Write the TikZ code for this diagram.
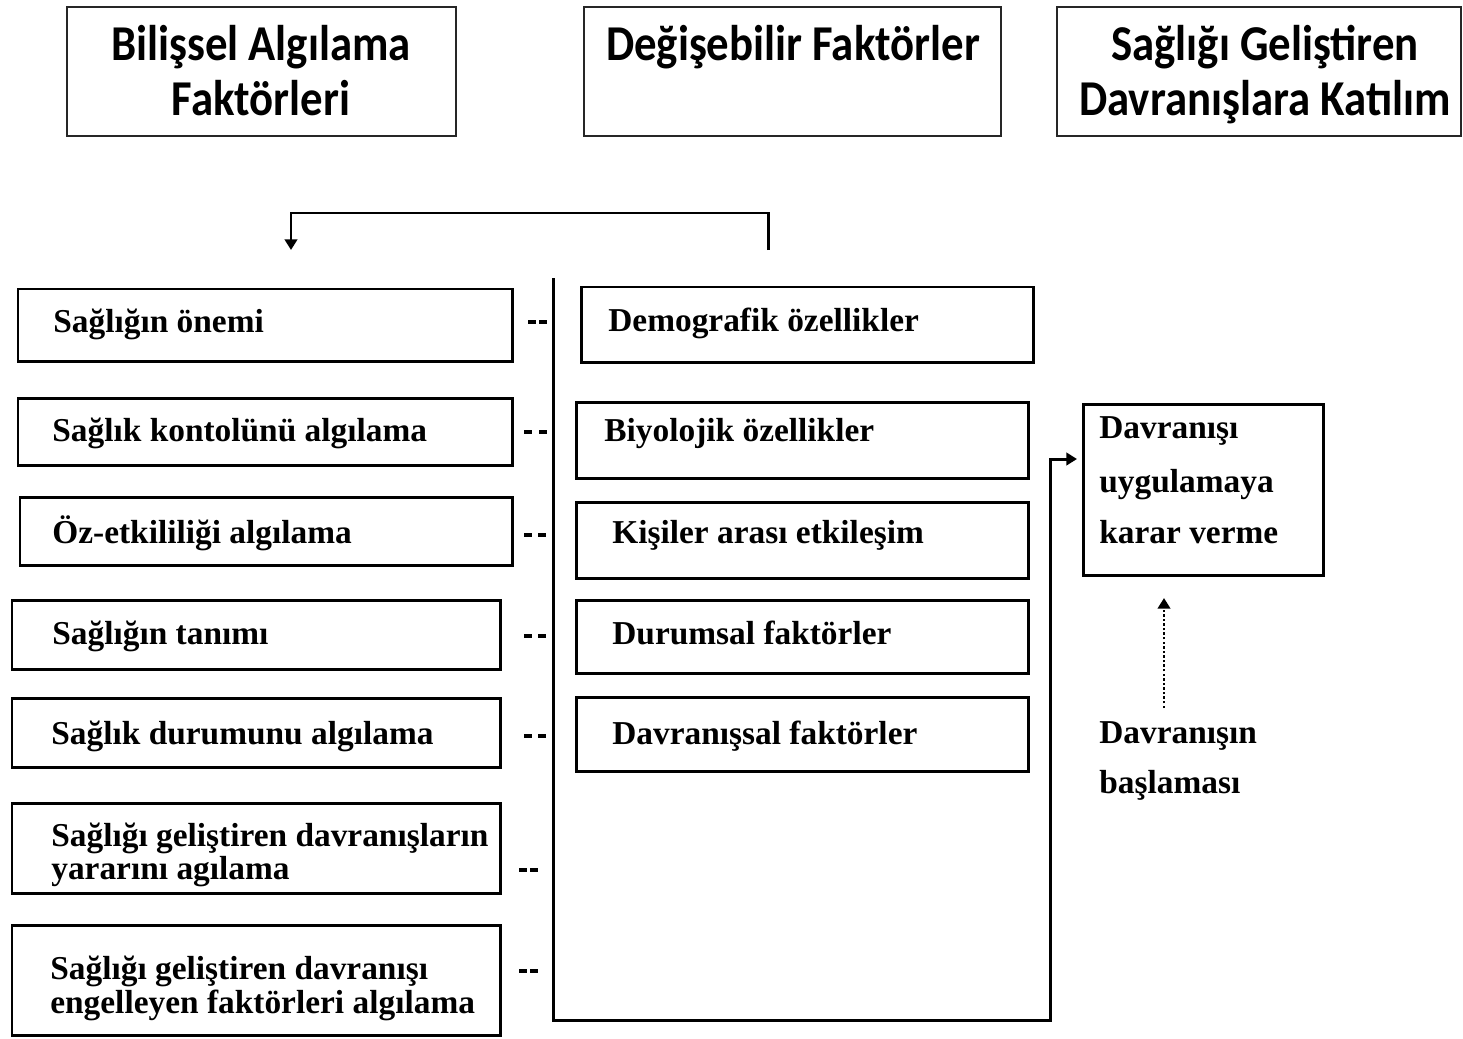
\documentclass[tikz,border=0pt]{standalone}
\usepackage{fontspec}
\setmainfont{Liberation Serif}
\newfontfamily\headfamily{Carlito}
\usetikzlibrary{fit,arrows.meta}
\newcommand\bodytext{\fontsize{19}{23}\selectfont\bfseries}
\newcommand\headtext{\headfamily\bfseries\fontsize{25.5}{31}\selectfont}
% heading lines are set a little taller than the plain font
\newcommand\tall[1]{\scalebox{1}[1.12]{#1}}
\tikzset{
  hbox/.style={draw=black!85, line width=1.3pt, inner sep=0pt},
  pbox/.style={draw, line width=1.7pt, inner sep=0pt},
  htxt/.style={font=\headtext, anchor=base, inner sep=0pt},
  btxt/.style={font=\bodytext, anchor=base west, inner sep=0pt},
  arr/.style={line width=1.7pt, -{Triangle[length=6pt,width=7pt]}},
  dotarr/.style={line width=1.5pt, dash pattern=on 1.4pt off 1.2pt, -{Triangle[length=6pt,width=7pt]}},
  tick/.style={line width=2pt},
}
% a framed box between two corners
\newcommand\panel[5]{\node[pbox, fit={(#2,#3)(#4,#5)}] (#1) {};}
\newcommand\hpanel[5]{\node[hbox, fit={(#2,#3)(#4,#5)}] (#1) {};}
% a double hyphen ahead of the joining line
\newcommand\dashpair[3]{%
  \draw[tick] (#1,#3) -- (#1+8,#3);
  \draw[tick] (#2-8,#3) -- (#2,#3);}
\begin{document}
\begin{tikzpicture}[x=0.02cm, y=-0.02cm]
\useasboundingbox (0,0) rectangle (1463,1038);

% column headings
\hpanel{h1}{67}{7}{456}{136}
\hpanel{h2}{584}{7}{1001}{136}
\hpanel{h3}{1057}{7}{1461}{136}
\node[htxt] (h1a) at (261,60) {\tall{Bilişsel Algılama}};
\node[htxt] (h1b) at (261,115) {\tall{Faktörleri}};
\node[htxt] (h2a) at (793,60) {\tall{Değişebilir Faktörler}};
\node[htxt] (h3a) at (1265,60) {\tall{Sağlığı Geliştiren}};
\node[htxt] (h3b) at (1265,115) {\tall{Davranışlara Katılım}};

% feedback from the modifying factors to the cognitive factors
\coordinate (fbs) at (768,250);
\coordinate (fbe) at (291,250);
\draw[arr] (fbs) -- ++(0,-37) -| (fbe);

% cognitive-perceptual factors
\panel{l1}{18}{289}{512}{361}
\panel{l2}{18}{398}{512}{465}
\panel{l3}{20}{497}{512}{565}
\panel{l4}{12}{600}{500}{669}
\panel{l5}{12}{698}{500}{767}
\panel{l6}{12}{803}{500}{893}
\panel{l7}{12}{925}{500}{1035}
\node[btxt] (l1t) at (53,332) {Sağlığın önemi};
\node[btxt] (l2t) at (52,441) {Sağlık kontolünü algılama};
\node[btxt] (l3t) at (52,543) {Öz-etkililiği algılama};
\node[btxt] (l4t) at (52,644) {Sağlığın tanımı};
\node[btxt] (l5t) at (51,744) {Sağlık durumunu algılama};
\node[btxt] (l6t) at (51,846) {Sağlığı geliştiren davranışların};
\node[btxt] (l6u) at (51,879) {yararını agılama};
\node[btxt] (l7t) at (50,979) {Sağlığı geliştiren davranışı};
\node[btxt] (l7u) at (50,1013) {engelleyen faktörleri algılama};

\dashpair{528}{547}{322}
\dashpair{524}{547}{432}
\dashpair{524}{546}{535}
\dashpair{524}{546}{636}
\dashpair{524}{546}{736}
\dashpair{519}{538}{870}
\dashpair{519}{538}{971}

% modifying factors
\panel{m1}{581}{287}{1033}{362}
\panel{m2}{576}{402}{1028}{478}
\panel{m3}{576}{502}{1028}{578}
\panel{m4}{576}{600}{1028}{673}
\panel{m5}{576}{697}{1028}{771}
\node[btxt] (m1t) at (608,331) {Demografik özellikler};
\node[btxt] (m2t) at (604,441) {Biyolojik özellikler};
\node[btxt] (m3t) at (612,543) {Kişiler arası etkileşim};
\node[btxt] (m4t) at (612,644) {Durumsal faktörler};
\node[btxt] (m5t) at (612,744) {Davranışsal faktörler};

% decision to act
\panel{dec}{1083}{404}{1323}{575}
\node[btxt] (d1) at (1099,438) {Davranışı};
\node[btxt] (d2) at (1099,492) {uygulamaya};
\node[btxt] (d3) at (1099,543) {karar verme};

% joining bracket leading into the decision
\coordinate (jt) at (553,278);
\coordinate (jb) at (1050,1020);
\coordinate (jin) at (1077,459);
\draw[arr] (jt) |- (jb) |- (jin);

% onset of the behaviour
\node[btxt] (s1) at (1099,743) {Davranışın};
\node[btxt] (s2) at (1099,793) {başlaması};
\coordinate (ss) at (1164,708);
\coordinate (se) at (1164,598);
\draw[dotarr] (ss) -- (se);
\end{tikzpicture}
\end{document}
